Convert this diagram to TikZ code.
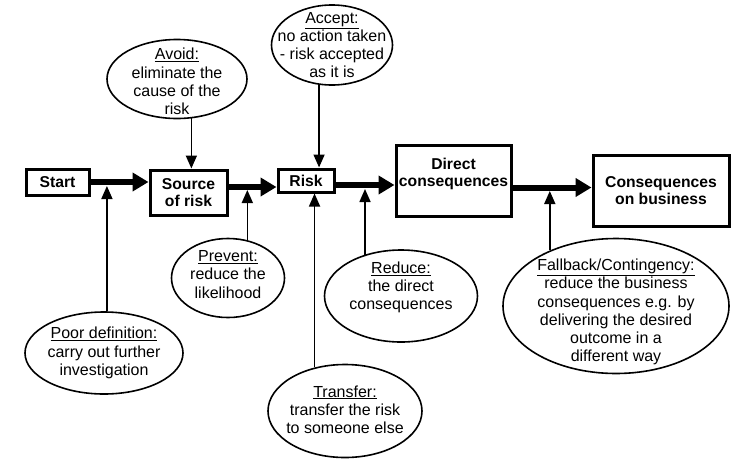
\documentclass[tikz,border=0pt]{standalone}
\usepackage{fontspec}
\setmainfont{Liberation Sans}
\usetikzlibrary{arrows.meta,shapes.geometric}
\begin{document}
\begin{tikzpicture}[x=1pt,y=-1pt,
  box/.style={draw, line width=3pt, align=center, inner sep=0pt, font=\bfseries\fontsize{15.7}{17}\selectfont},
  oval/.style={draw, ellipse, line width=1.6pt, inner sep=0pt},
  txt/.style={align=center, inner sep=0pt, font=\fontsize{16}{18.2}\selectfont},
  bigarrow/.style={line width=6pt, -{Triangle[length=16pt,width=18pt]}},
  thinarrow/.style={line width=1.6pt, -{Triangle[length=13pt,width=11pt]}}]
\useasboundingbox (0,0) rectangle (754,461);
\node[box, minimum width=63pt, minimum height=26pt] (start) at (57.5,182) {Start};
\node[box, minimum width=77pt, minimum height=45pt] (source) at (188.5,192.5) {Source\\of risk};
\node[box, minimum width=56pt, minimum height=23pt] (risk) at (306,180.5) {Risk};
\node[box, minimum width=115pt, minimum height=71pt] (direct) at (453.5,180.5) {Direct\\consequences\\\mbox{}};
\node[box, minimum width=136pt, minimum height=71pt] (cons) at (661,190.5) {Consequences\\on business};
\node[oval, minimum width=140pt, minimum height=79pt, label={[txt, yshift=-2.5pt]center:{\underline{Avoid:}\\eliminate the\\cause of the\\risk}}] (avoid) at (177,79) {};
\node[oval, minimum width=121pt, minimum height=80pt, label={[txt]center:{\underline{Accept:}\\no action taken\\- risk accepted\\as it is}}] (accept) at (332,45) {};
\node[oval, minimum width=113pt, minimum height=79pt, label={[txt, yshift=3.5pt]center:{\underline{Prevent:}\\reduce the\\likelihood}}] (prevent) at (228,278) {};
\node[oval, minimum width=158pt, minimum height=82pt, label={[txt]center:{\underline{Poor definition:}\\carry out further\\investigation}}] (poor) at (104,353) {};
\node[oval, minimum width=153pt, minimum height=92pt, label={[txt, yshift=8.5pt]center:{\underline{Reduce:}\\the direct\\consequences}}] (reduce) at (401,296) {};
\node[oval, minimum width=154pt, minimum height=93pt, label={[txt, yshift=1.5pt]center:{\underline{Transfer:}\\transfer the risk\\to someone else}}] (transfer) at (345,411) {};
\node[oval, minimum width=226pt, minimum height=135pt, label={[txt, yshift=-6pt]center:{\underline{Fallback/Contingency:}\\reduce the business\\consequences e.g. by\\delivering the desired\\outcome in a\\different way}}] (fallback) at (616,306) {};
\coordinate (tipa) at (0,186);
\coordinate (tipb) at (0,190);
\coordinate (tipc) at (0,189);
\coordinate (tipd) at (0,191);
\draw[bigarrow] (start.east) -- (start.east -| source.west);
\draw[bigarrow] ([yshift=5.5pt]source.east) -- ([yshift=5.5pt]source.east -| risk.west);
\draw[bigarrow] ([yshift=-4.5pt]risk.east) -- ([yshift=-4.5pt]risk.east -| direct.west);
\draw[bigarrow] ([yshift=-7pt]direct.east) -- ([yshift=-7pt]direct.east -| cons.west);
\draw[thinarrow] (avoid.290) -- (avoid.290 |- source.north);
\draw[thinarrow] (accept.252) -- (accept.252 |- risk.north);
\draw[thinarrow] (poor.86) -- (poor.86 |- tipa);
\draw[thinarrow] (prevent.63) -- (prevent.63 |- tipb);
\draw[thinarrow] (transfer.125) -- (transfer.125 |- risk.south);
\draw[thinarrow] (reduce.131) -- (reduce.131 |- tipc);
\draw[thinarrow] (fallback.140) -- (fallback.140 |- tipd);
\end{tikzpicture}
\end{document}
